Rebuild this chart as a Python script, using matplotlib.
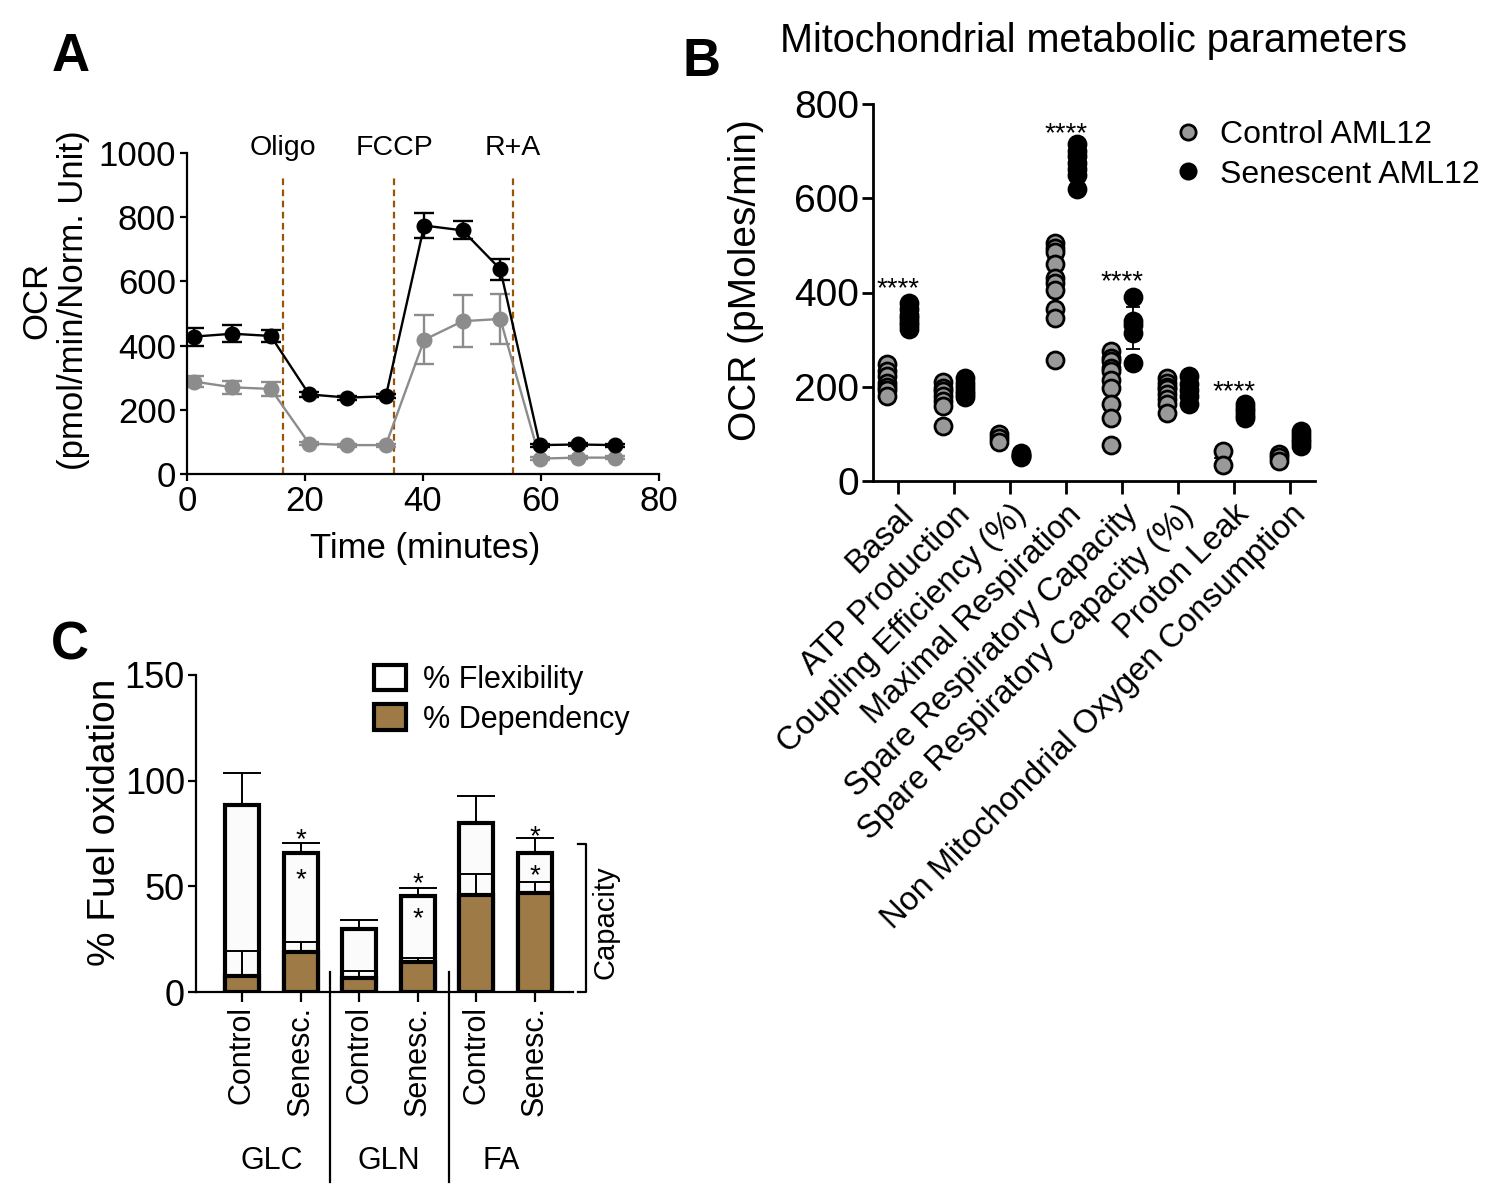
import numpy as np
import matplotlib
matplotlib.use("Agg")
import matplotlib.pyplot as plt
import matplotlib.transforms as mtransforms
from matplotlib.lines import Line2D
from matplotlib.patches import Patch

plt.rcParams['font.family'] = ['Liberation Sans', 'DejaVu Sans']

W, H = 1490, 1196

# --- panel A: OCR trace ---
time_min = [1.2, 7.7, 14.2, 20.7, 27.2, 33.7, 40.2, 46.7, 53.1, 59.8, 66.2, 72.6]
ocr_sen = [428, 437, 430, 248, 238, 242, 774, 759, 638, 90, 92, 90]
ocr_sen_err = [28, 27, 20, 8, 6, 6, 38, 28, 33, 5, 5, 5]
ocr_ctrl = [288, 270, 265, 95, 90, 90, 418, 476, 483, 48, 51, 51]
ocr_ctrl_err = [17, 20, 22, 5, 5, 5, 76, 81, 78, 4, 4, 4]
inject_names = ["Oligo", "FCCP", "R+A"]
inject_times = [16.3, 35.1, 55.2]

# --- panel B: metabolic parameters (individual wells) ---
params = ["Basal", "ATP Production", "Coupling Efficiency (%)", "Maximal Respiration",
          "Spare Respiratory Capacity", "Spare Respiratory Capacity (%)", "Proton Leak",
          "Non Mitochondrial Oxygen Consumption"]
ctrl_pts = [
    [249, 233, 222, 208, 200, 194, 180],
    [210, 198, 190, 180, 170, 160, 117],
    [100, 92, 82],
    [505, 495, 485, 460, 430, 420, 405, 365, 345, 257],
    [276, 262, 254, 240, 233, 215, 198, 163, 134, 76],
    [218, 208, 200, 195, 185, 175, 163, 145],
    [64, 35],
    [58, 50, 42],
]
sen_pts = [
    [378, 365, 352, 345, 338, 330, 322],
    [218, 208, 200, 192, 185, 178],
    [60, 56, 53, 50],
    [715, 700, 690, 675, 662, 650, 620],
    [390, 340, 330, 315, 250],
    [222, 205, 194, 180, 163],
    [163, 155, 148, 140, 134],
    [106, 98, 90, 82, 74],
]
sig_idx = [0, 3, 4, 6]
sig_y = [392, 720, 406, 173]

# --- panel C: fuel oxidation ---
fuel_groups = ["GLC", "GLN", "FA"]
bar_labels = ["Control", "Senesc."] * 3
capacity = [88.5, 65.6, 30.0, 45.5, 80.1, 65.9]
capacity_err = [15.0, 5.0, 4.2, 3.5, 12.8, 6.9]
dependency = [7.5, 18.8, 6.6, 14.3, 45.9, 46.8]
dependency_err = [11.9, 5.0, 3.4, 1.7, 9.9, 5.4]
star_top_y = [68.5, 47.7, 70.0]
star_in_y = [49.4, 31.1, 51.7]
capacity_top = 70

brown = "#9e7a47"
gray = "#999999"
inj_col = "#9a5408"


def rect(l, t, r, b):
    return [l / W, 1 - b / H, (r - l) / W, (b - t) / H]


fig = plt.figure(figsize=(W / 100, H / 100), dpi=100)

# ---------------- A ----------------
axA = fig.add_axes(rect(187, 153, 659, 474))
axA.errorbar(time_min, ocr_ctrl, yerr=ocr_ctrl_err, color="#8c8c8c", marker="o", ms=10.5,
             lw=1.7, capsize=7, elinewidth=1.7, capthick=1.7, zorder=2)
axA.errorbar(time_min, ocr_sen, yerr=ocr_sen_err, color="black", marker="o", ms=10.5,
             lw=1.7, capsize=7, elinewidth=1.7, capthick=1.7, zorder=3)
for name, t in zip(inject_names, inject_times):
    axA.plot([t, t], [0, 935], ls=(0, (3, 2)), color=inj_col, lw=1.6, zorder=1)
    axA.text(t, 993, name, ha="center", va="baseline", fontsize=20.5)
axA.set_xlim(0, 80)
axA.set_ylim(0, 1000)
axA.set_xticks([0, 20, 40, 60, 80])
axA.set_yticks([0, 200, 400, 600, 800, 1000])
axA.tick_params(labelsize=25, width=1.6, length=5, pad=3)
for s in ["top", "right"]:
    axA.spines[s].set_visible(False)
for s in ["left", "bottom"]:
    axA.spines[s].set_linewidth(1.6)
axA.set_xlabel("Time (minutes)", fontsize=25, va="center")
axA.xaxis.set_label_coords((425 - 187) / 472, (474 - 548) / 321)
axA.set_ylabel("OCR\n(pmol/min/Norm. Unit)", fontsize=25, va="center", linespacing=1.15)
axA.yaxis.set_label_coords((55 - 187) / 472, (474 - 300) / 321)

# ---------------- B ----------------
axB = fig.add_axes(rect(873, 104, 1315, 481))
xpos = np.arange(len(params))
for i in range(len(params)):
    xc = np.full(len(ctrl_pts[i]), i - 0.2)
    xs = np.full(len(sen_pts[i]), i + 0.2)
    axB.scatter(xc, ctrl_pts[i], s=150, facecolor=gray, edgecolor="black", linewidth=2, zorder=2)
    axB.scatter(xs, sen_pts[i], s=150, facecolor="black", edgecolor="black", linewidth=2, zorder=2)
    for x0, pts in ((i - 0.2, ctrl_pts[i]), (i + 0.2, sen_pts[i])):
        m = np.mean(pts)
        sd = np.std(pts)
        axB.errorbar([x0], [m], yerr=[sd], fmt="none", ecolor="black", elinewidth=1.3,
                     capsize=5, capthick=1.3, zorder=1)
        axB.plot([x0 - 0.13, x0 + 0.13], [m, m], color="black", lw=1.3, zorder=1)
for i, y in zip(sig_idx, sig_y):
    axB.text(xpos[i], y, "****", ha="center", va="baseline", fontsize=20)
axB.set_xlim(-0.45, 7.45)
axB.set_ylim(0, 800)
axB.set_yticks([0, 200, 400, 600, 800])
axB.set_xticks(xpos)
axB.set_xticklabels(params, rotation=45, ha="right", rotation_mode="anchor", fontsize=23.5)
axB.tick_params(axis="y", labelsize=28, width=2, length=8, pad=2)
axB.tick_params(axis="x", width=2, length=9, pad=4)
for s in ["top", "right"]:
    axB.spines[s].set_visible(False)
for s in ["left", "bottom"]:
    axB.spines[s].set_linewidth(2)
axB.set_ylabel("OCR (pMoles/min)", fontsize=28, va="center")
axB.yaxis.set_label_coords((746 - 873) / 442, (481 - 280) / 377)
handlesB = [
    Line2D([], [], ls="none", marker="o", ms=11, mfc=gray, mec="black", mew=2, label="Control AML12"),
    Line2D([], [], ls="none", marker="o", ms=11, mfc="black", mec="black", mew=2, label="Senescent AML12"),
]
fig.legend(handles=handlesB, loc="upper left", bbox_to_anchor=(1172 / W, 1 - 120 / H),
           frameon=False, fontsize=23, handlelength=1.0, handletextpad=0.5,
           labelspacing=0.3, borderpad=0, borderaxespad=0)
fig.text(1094 / W, 1 - 41 / H, "Mitochondrial metabolic parameters", ha="center", va="center",
         fontsize=28.5)

# ---------------- C ----------------
axC = fig.add_axes(rect(196, 675, 573, 992))
xb = np.arange(len(capacity))
axC.bar(xb, capacity, width=0.58, color="#fbfbfb", edgecolor="black", linewidth=3, zorder=2)
axC.errorbar(xb, capacity, yerr=[np.zeros(len(xb)), capacity_err], fmt="none", ecolor="black",
             elinewidth=1.4, capsize=14, capthick=1.4, zorder=1)
axC.bar(xb, dependency, width=0.58, color=brown, edgecolor="black", linewidth=3, zorder=3)
axC.errorbar(xb, dependency, yerr=[np.zeros(len(xb)), dependency_err], fmt="none",
             ecolor="black", elinewidth=1.4, capsize=14, capthick=1.4, zorder=2.5)
for k in range(3):
    axC.text(xb[2 * k + 1], star_top_y[k], "*", ha="center", va="baseline", fontsize=20, zorder=5)
    axC.text(xb[2 * k + 1], star_in_y[k], "*", ha="center", va="baseline", fontsize=20, zorder=5)
axC.set_xlim(-0.785, 5.65)
axC.set_ylim(0, 150)
axC.set_yticks([0, 50, 100, 150])
axC.set_xticks(xb)
axC.set_xticklabels(bar_labels, rotation=90, fontsize=22)
axC.tick_params(axis="y", labelsize=26, width=1.6, length=6, pad=2)
axC.tick_params(axis="x", width=1.6, length=7, pad=3)
for s in ["top", "right"]:
    axC.spines[s].set_visible(False)
for s in ["left", "bottom"]:
    axC.spines[s].set_linewidth(1.6)
axC.set_ylabel("% Fuel oxidation", fontsize=28, va="center")
axC.yaxis.set_label_coords((105 - 196) / 377, (992 - 822) / 317)

trC = mtransforms.blended_transform_factory(axC.transData, axC.transAxes)
for xsep in [1.5, 3.53]:
    axC.add_line(Line2D([xsep, xsep], [0.063, -0.6], color="black", lw=1.6,
                        transform=trC, clip_on=False))
for name, xg in zip(fuel_groups, [0.5, 2.5, 4.42]):
    axC.text(xg, (992 - 1161) / 317, name, transform=trC, ha="center", va="center", fontsize=22)
axC.plot([5.73, 5.87, 5.87, 5.73], [capacity_top, capacity_top, 0, 0], color="black", lw=1.6,
         clip_on=False)
axC.text(6.2, 33, "Capacity", rotation=90, ha="center", va="center", fontsize=21)
handlesC = [Patch(facecolor="white", edgecolor="black", linewidth=3, label="% Flexibility"),
            Patch(facecolor=brown, edgecolor="black", linewidth=3, label="% Dependency")]
fig.legend(handles=handlesC, loc="upper left", bbox_to_anchor=(374 / W, 1 - 665 / H),
           frameon=False, fontsize=22, handlelength=1.05, handleheight=0.9,
           handletextpad=0.55, labelspacing=0.3, borderpad=0, borderaxespad=0)

# panel letters
for letter, (px, py) in zip("ABC", [(71, 57), (702, 62), (70, 646)]):
    fig.text(px / W, 1 - py / H, letter, ha="center", va="center", fontsize=38, fontweight="bold")

fig.savefig("out.png", dpi=100)
